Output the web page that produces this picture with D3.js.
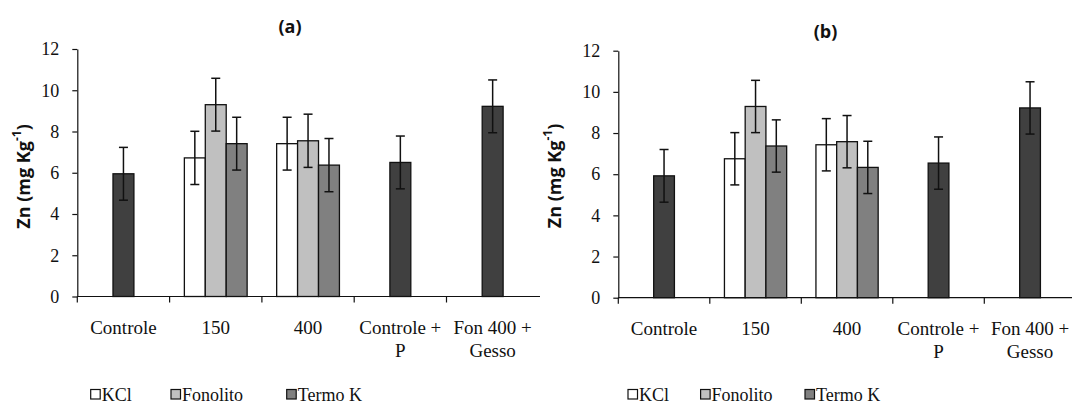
<!DOCTYPE html>
<html>
<head>
<meta charset="utf-8">
<script src="https://cdn.jsdelivr.net/npm/d3@7"></script>
<style>
  body { margin: 0; background: #fff; }
</style>
</head>
<body>
<svg id="chart" width="1072" height="405"></svg>
<script>
const categories = ["Controle", "150", "400", "Controle + P", "Fon 400 + Gesso"];
const categoryLines = [["Controle"], ["150"], ["400"], ["Controle +", "P"], ["Fon 400 +", "Gesso"]];
const series = ["KCl", "Fonolito", "Termo K"];
const doseCategories = ["150", "400"];
const singleCategories = ["Controle", "Controle + P", "Fon 400 + Gesso"];
const yTicks = [0, 2, 4, 6, 8, 10, 12];

// panel (a)
const singleA = [5.95, 6.5, 9.22];
const singleErrA = [1.28, 1.28, 1.28];
const kclA = [6.72, 7.41];
const fonolitoA = [9.3, 7.55];
const termoA = [7.41, 6.37];
const kclErrA = [1.29, 1.28];
const fonolitoErrA = [1.28, 1.29];
const termoErrA = [1.28, 1.29];

// panel (b)
const singleB = [5.92, 6.54, 9.22];
const singleErrB = [1.28, 1.27, 1.27];
const kclB = [6.75, 7.43];
const fonolitoB = [9.29, 7.58];
const termoB = [7.37, 6.33];
const kclErrB = [1.27, 1.27];
const fonolitoErrB = [1.27, 1.27];
const termoErrB = [1.27, 1.27];

const seriesColor = { "KCl": "#ffffff", "Fonolito": "#c0c0c0", "Termo K": "#808080" };
const singleColor = "#404040";
const serif = "'Liberation Serif', 'Times New Roman', Times, serif";
const sans = "'Open Sans', sans-serif";

function buildRows(single, singleErr, kcl, fon, termo, kclErr, fonErr, termoErr) {
  const rows = [];
  singleCategories.forEach((c, i) => {
    rows.push({ cat: c, key: null, value: single[i], err: singleErr[i] });
  });
  const vals = [kcl, fon, termo];
  const errs = [kclErr, fonErr, termoErr];
  doseCategories.forEach((c, i) => {
    series.forEach((s, j) => {
      rows.push({ cat: c, key: s, value: vals[j][i], err: errs[j][i] });
    });
  });
  return rows;
}

const panels = [
  {
    title: "(a)",
    rows: buildRows(singleA, singleErrA, kclA, fonolitoA, termoA, kclErrA, fonolitoErrA, termoErrA),
    left: 77.3, step: 92.3, axisEnd: 540, top: 49, bottom: 296.5,
    titleX: 290, titleY: 32.5, yLabelX: 23, yLabelY: 176.5,
    legendX: [90.7, 171, 286.7]
  },
  {
    title: "(b)",
    rows: buildRows(singleB, singleErrB, kclB, fonolitoB, termoB, kclErrB, fonolitoErrB, termoErrB),
    left: 618.3, step: 91.5, axisEnd: 1072, top: 50.7, bottom: 297.7,
    titleX: 825.5, titleY: 37.5, yLabelX: 554, yLabelY: 176,
    legendX: [628, 700.6, 805]
  }
];

const svg = d3.select("#chart");

panels.forEach((p) => {
  const g = svg.append("g");

  const x = d3
    .scaleBand()
    .domain(categories)
    .range([p.left, p.left + p.step * categories.length]);

  const xSub = d3
    .scaleBand()
    .domain(series)
    .range([x.bandwidth() * 0.16, x.bandwidth() * 0.84]);

  const y = d3.scaleLinear().domain([0, 12]).range([p.bottom, p.top]);

  const barX = (d) =>
    d.key === null
      ? x(d.cat) + (x.bandwidth() - xSub.bandwidth()) / 2
      : x(d.cat) + xSub(d.key);

  // bars
  g.selectAll("rect.bar")
    .data(p.rows)
    .join("rect")
    .attr("class", "bar")
    .attr("x", barX)
    .attr("y", (d) => y(d.value))
    .attr("width", xSub.bandwidth())
    .attr("height", (d) => y(0) - y(d.value))
    .attr("fill", (d) => (d.key === null ? singleColor : seriesColor[d.key]))
    .attr("stroke", "#111")
    .attr("stroke-width", 1.3);

  // error bars
  const cap = 4.5;
  const cx = (d) => barX(d) + xSub.bandwidth() / 2;
  const eb = g.selectAll("g.err").data(p.rows).join("g").attr("class", "err")
    .attr("stroke", "#111").attr("stroke-width", 1.5);
  eb.append("line")
    .attr("x1", cx).attr("x2", cx)
    .attr("y1", (d) => y(d.value + d.err))
    .attr("y2", (d) => y(d.value - d.err));
  eb.append("line")
    .attr("x1", (d) => cx(d) - cap).attr("x2", (d) => cx(d) + cap)
    .attr("y1", (d) => y(d.value + d.err))
    .attr("y2", (d) => y(d.value + d.err));
  eb.append("line")
    .attr("x1", (d) => cx(d) - cap).attr("x2", (d) => cx(d) + cap)
    .attr("y1", (d) => y(d.value - d.err))
    .attr("y2", (d) => y(d.value - d.err));

  // Y axis
  const yAxis = g.append("g")
    .attr("transform", `translate(${p.left},0)`)
    .call(d3.axisLeft(y).tickValues(yTicks).tickSize(5).tickSizeOuter(0).tickPadding(13));
  yAxis.attr("font-family", null).attr("font-size", null);
  yAxis.select(".domain").attr("stroke", "#111").attr("stroke-width", 1.2);
  yAxis.selectAll(".tick line").attr("stroke", "#111").attr("stroke-width", 1.2);
  yAxis.selectAll(".tick text")
    .style("font-family", serif)
    .style("font-size", "18px")
    .attr("fill", "#111");

  // X axis line and boundary ticks
  g.append("line")
    .attr("x1", p.left).attr("x2", p.axisEnd)
    .attr("y1", y(0)).attr("y2", y(0))
    .attr("stroke", "#111").attr("stroke-width", 1.2);
  g.selectAll("line.xtick")
    .data(categories)
    .join("line")
    .attr("class", "xtick")
    .attr("x1", (c) => x(c)).attr("x2", (c) => x(c))
    .attr("y1", y(0)).attr("y2", y(0) + 6)
    .attr("stroke", "#111").attr("stroke-width", 1.2);

  // category labels
  const labels = g.selectAll("text.xlabel")
    .data(categories)
    .join("text")
    .attr("class", "xlabel")
    .attr("text-anchor", "middle")
    .attr("x", (c) => x(c) + x.bandwidth() / 2)
    .attr("y", y(0) + 37)
    .style("font-family", serif)
    .style("font-size", "19px")
    .attr("fill", "#111");
  labels.selectAll("tspan")
    .data((c, i) => categoryLines[i])
    .join("tspan")
    .attr("x", function () { return d3.select(this.parentNode).attr("x"); })
    .attr("dy", (t, i) => (i === 0 ? 0 : 23.5))
    .text((t) => t);

  // title
  g.append("text")
    .attr("x", p.titleX)
    .attr("y", p.titleY)
    .attr("text-anchor", "middle")
    .style("font-family", sans)
    .style("font-weight", "bold")
    .style("font-size", "18px")
    .attr("fill", "#111")
    .text(p.title);

  // Y axis label
  const yl = g.append("text")
    .attr("transform", `translate(${p.yLabelX},${p.yLabelY}) rotate(-90)`)
    .attr("text-anchor", "middle")
    .attr("dominant-baseline", "central")
    .style("font-family", sans)
    .style("font-weight", "bold")
    .style("font-size", "18px")
    .attr("fill", "#111");
  yl.append("tspan").text("Zn (mg Kg");
  yl.append("tspan").attr("dy", -7).style("font-size", "12px").text("-1");
  yl.append("tspan").attr("dy", 7).text(")");

  // legend
  const legend = g.selectAll("g.legend")
    .data(series)
    .join("g")
    .attr("class", "legend")
    .attr("transform", (s, i) => `translate(${p.legendX[i]},389.5)`);
  legend.append("rect")
    .attr("width", 9.5).attr("height", 9.5)
    .attr("fill", (s) => seriesColor[s])
    .attr("stroke", "#111").attr("stroke-width", 1.2);
  legend.append("text")
    .attr("x", 11)
    .attr("y", 11)
    .style("font-family", serif)
    .style("font-size", "18px")
    .attr("fill", "#111")
    .text((s) => s);
});
</script>
</body>
</html>
